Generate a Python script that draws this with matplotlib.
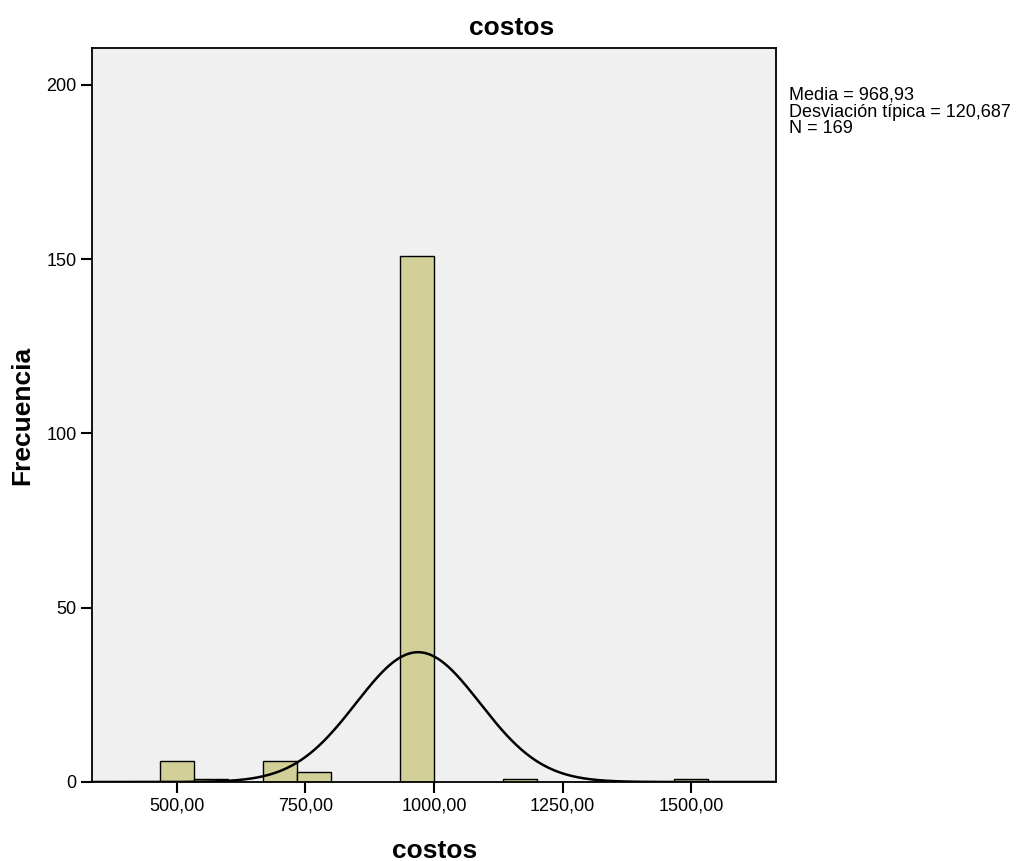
import matplotlib.pyplot as plt
import numpy as np

plt.rcParams['font.family'] = ['Liberation Sans', 'DejaVu Sans']

# histogram bins (left edges) and counts
bin_width = 1000.0 / 15.0
bin_lefts = [466.67, 533.33, 666.67, 733.33, 933.33, 1133.33, 1466.67]
counts = [6, 1, 6, 3, 151, 1, 1]

media = 968.93
desv = 120.687
n = 169

xticks = [500, 750, 1000, 1250, 1500]
xtick_labels = ['500,00', '750,00', '1000,00', '1250,00', '1500,00']
yticks = [0, 50, 100, 150, 200]


def plot():
    fig = plt.figure(figsize=(10.17, 8.61), dpi=100)
    ax = fig.add_axes([92 / 1017, 1 - 782 / 861, (776 - 92) / 1017, (782 - 48) / 861])
    ax.set_facecolor('#f0f0f0')

    ax.bar(bin_lefts, counts, width=bin_width, align='edge',
           color='#d3cf98', edgecolor='black', linewidth=1.0, zorder=2)

    # normal curve scaled to the histogram
    xs = np.linspace(335, 1665, 600)
    ys = n * bin_width * np.exp(-0.5 * ((xs - media) / desv) ** 2) / (desv * np.sqrt(2 * np.pi))
    ax.plot(xs, ys, color='black', linewidth=1.8, zorder=3)

    ax.set_xlim(335, 1665)
    ax.set_ylim(0, 210.6)
    ax.set_xticks(xticks)
    ax.set_xticklabels(xtick_labels)
    ax.set_yticks(yticks)
    ax.tick_params(axis='both', direction='out', length=8, width=1.5, labelsize=13, pad=3)
    for sp in ax.spines.values():
        sp.set_linewidth(1.3)
        sp.set_color('black')

    fig.text(512 / 1017, 1 - 28 / 861, 'costos', fontsize=19, fontweight='bold',
             ha='center', va='center')
    fig.text(435 / 1017, 1 - 851 / 861, 'costos', fontsize=19, fontweight='bold',
             ha='center', va='center')
    fig.text(22 / 1017, 1 - 415 / 861, 'Frecuencia', fontsize=19, fontweight='bold',
             ha='center', va='center', rotation=90)

    stats = 'Media = 968,93\nDesviación típica = 120,687\nN = 169'
    fig.text(789 / 1017, 1 - 87 / 861, stats, fontsize=13, va='top', ha='left',
             linespacing=0.98)

    fig.savefig('out.png', dpi=100)
    plt.close(fig)


if __name__ == '__main__':
    plot()
